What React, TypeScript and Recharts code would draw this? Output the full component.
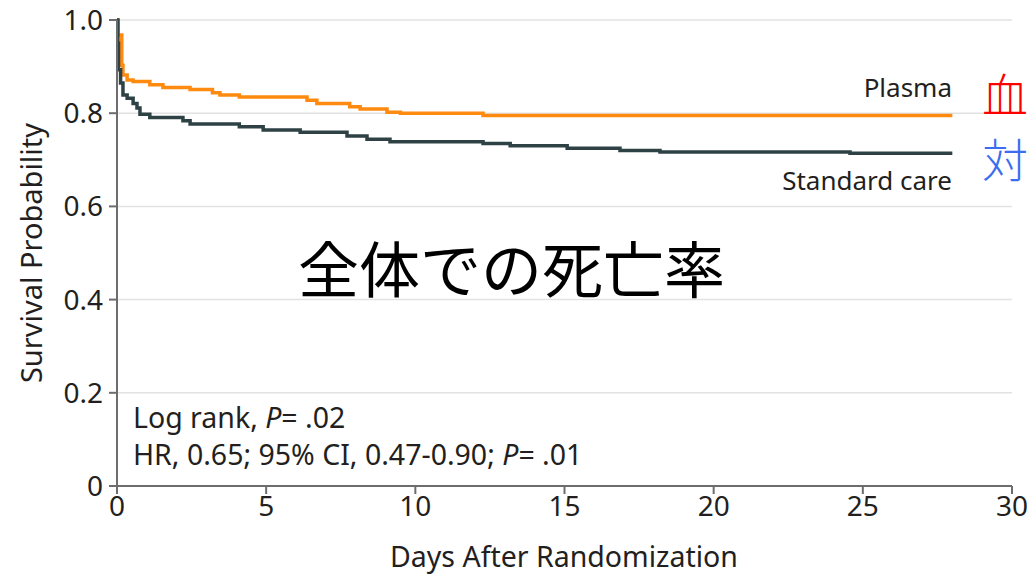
import { LineChart, Line, XAxis, YAxis, CartesianGrid } from "recharts";

// Kaplan-Meier steps
const plasmaDays = [0, 0.03, 0.16, 0.2, 0.34, 0.54, 1.1, 1.54, 2.45, 3.2, 3.45, 4.1, 6.37, 6.7, 7.8, 8.15, 9.05, 9.5, 12.27, 28];
const plasmaSurvival = [1.0, 0.968, 0.903, 0.882, 0.871, 0.868, 0.861, 0.855, 0.851, 0.844, 0.839, 0.835, 0.828, 0.821, 0.814, 0.809, 0.802, 0.8, 0.795, 0.795];

const standardDays = [0, 0.03, 0.05, 0.12, 0.2, 0.34, 0.54, 0.67, 0.77, 1.1, 2.21, 2.45, 4.1, 4.9, 6.14, 7.71, 8.38, 9.15, 12.27, 13.18, 15.09, 16.86, 18.2, 24.57, 28];
const standardSurvival = [1.0, 0.95, 0.893, 0.865, 0.839, 0.832, 0.821, 0.811, 0.798, 0.791, 0.784, 0.777, 0.771, 0.764, 0.759, 0.751, 0.744, 0.739, 0.735, 0.73, 0.725, 0.72, 0.717, 0.714, 0.714];

const xTicks = [0, 5, 10, 15, 20, 25, 30];
const yTicks = [0, 0.2, 0.4, 0.6, 0.8, 1.0];

const plasmaData = plasmaDays.map((d, i) => ({ day: d, s: plasmaSurvival[i] }));
const standardData = standardDays.map((d, i) => ({ day: d, s: standardSurvival[i] }));

const TEXT = "#231f20";
const FONT = "'Noto Sans', sans-serif";
const CJK = "'Noto Sans CJK JP', sans-serif";

export default function App() {
  return (
    <div style={{ position: "absolute", left: 0, top: 0, fontFamily: FONT }}>
      <LineChart
        width={1030}
        height={575}
        margin={{ top: 20, right: 18, bottom: 0, left: 0 }}
      >
        <CartesianGrid horizontal vertical={false} stroke="#e2e2e2" strokeWidth={1.5} />
        <XAxis
          dataKey="day"
          type="number"
          domain={[0, 30]}
          ticks={xTicks}
          height={89}
          tickSize={8}
          tickMargin={2}
          stroke="#6d6d6d"
          strokeWidth={2}
          tick={{ fill: TEXT, fontSize: 28, fontFamily: FONT }}
          allowDataOverflow
        />
        <YAxis
          type="number"
          domain={[0, 1]}
          ticks={yTicks}
          width={117}
          tickSize={8}
          tickMargin={6}
          stroke="#6d6d6d"
          strokeWidth={2}
          tick={{ fill: TEXT, fontSize: 28, fontFamily: FONT }}
          tickFormatter={(v: number) => (v === 0 ? "0" : v.toFixed(1))}
        />
        <Line
          data={plasmaData}
          dataKey="s"
          type="stepAfter"
          stroke="#ff8a10"
          strokeWidth={3.5}
          dot={false}
          isAnimationActive={false}
        />
        <Line
          data={standardData}
          dataKey="s"
          type="stepAfter"
          stroke="#2e4245"
          strokeWidth={3.5}
          dot={false}
          isAnimationActive={false}
        />
        <text x={952} y={97} textAnchor="end" fontSize={26} fill={TEXT} fontFamily={FONT}>
          Plasma
        </text>
        <text x={952} y={190} textAnchor="end" fontSize={26} fill={TEXT} fontFamily={FONT}>
          Standard care
        </text>
        <text x={133} y={428} fontSize={28.5} fill={TEXT} fontFamily={FONT}>
          Log rank, <tspan fontStyle="italic">P</tspan>= .02
        </text>
        <text x={133} y={465} fontSize={28.5} fill={TEXT} fontFamily={FONT}>
          HR, 0.65; 95% CI, 0.47-0.90; <tspan fontStyle="italic">P</tspan>= .01
        </text>
        <text
          x={30}
          y={253}
          textAnchor="middle"
          dominantBaseline="central"
          transform="rotate(-90, 30, 253)"
          fontSize={29}
          fill={TEXT}
          fontFamily={FONT}
        >
          Survival Probability
        </text>
        <text x={564} y={567} textAnchor="middle" fontSize={28.5} fill={TEXT} fontFamily={FONT}>
          Days After Randomization
        </text>
        <text x={298} y={293} fontSize={61} fill="#000" fontFamily={CJK}>
          全体での死亡率
        </text>
        <text x={982} y={112} fontSize={46} fill="#ff0000" fontFamily={CJK} fontWeight={300}>
          血
        </text>
        <text x={982} y={177} fontSize={46} fill="#3a6df0" fontFamily={CJK} fontWeight={300}>
          対
        </text>
      </LineChart>
    </div>
  );
}
